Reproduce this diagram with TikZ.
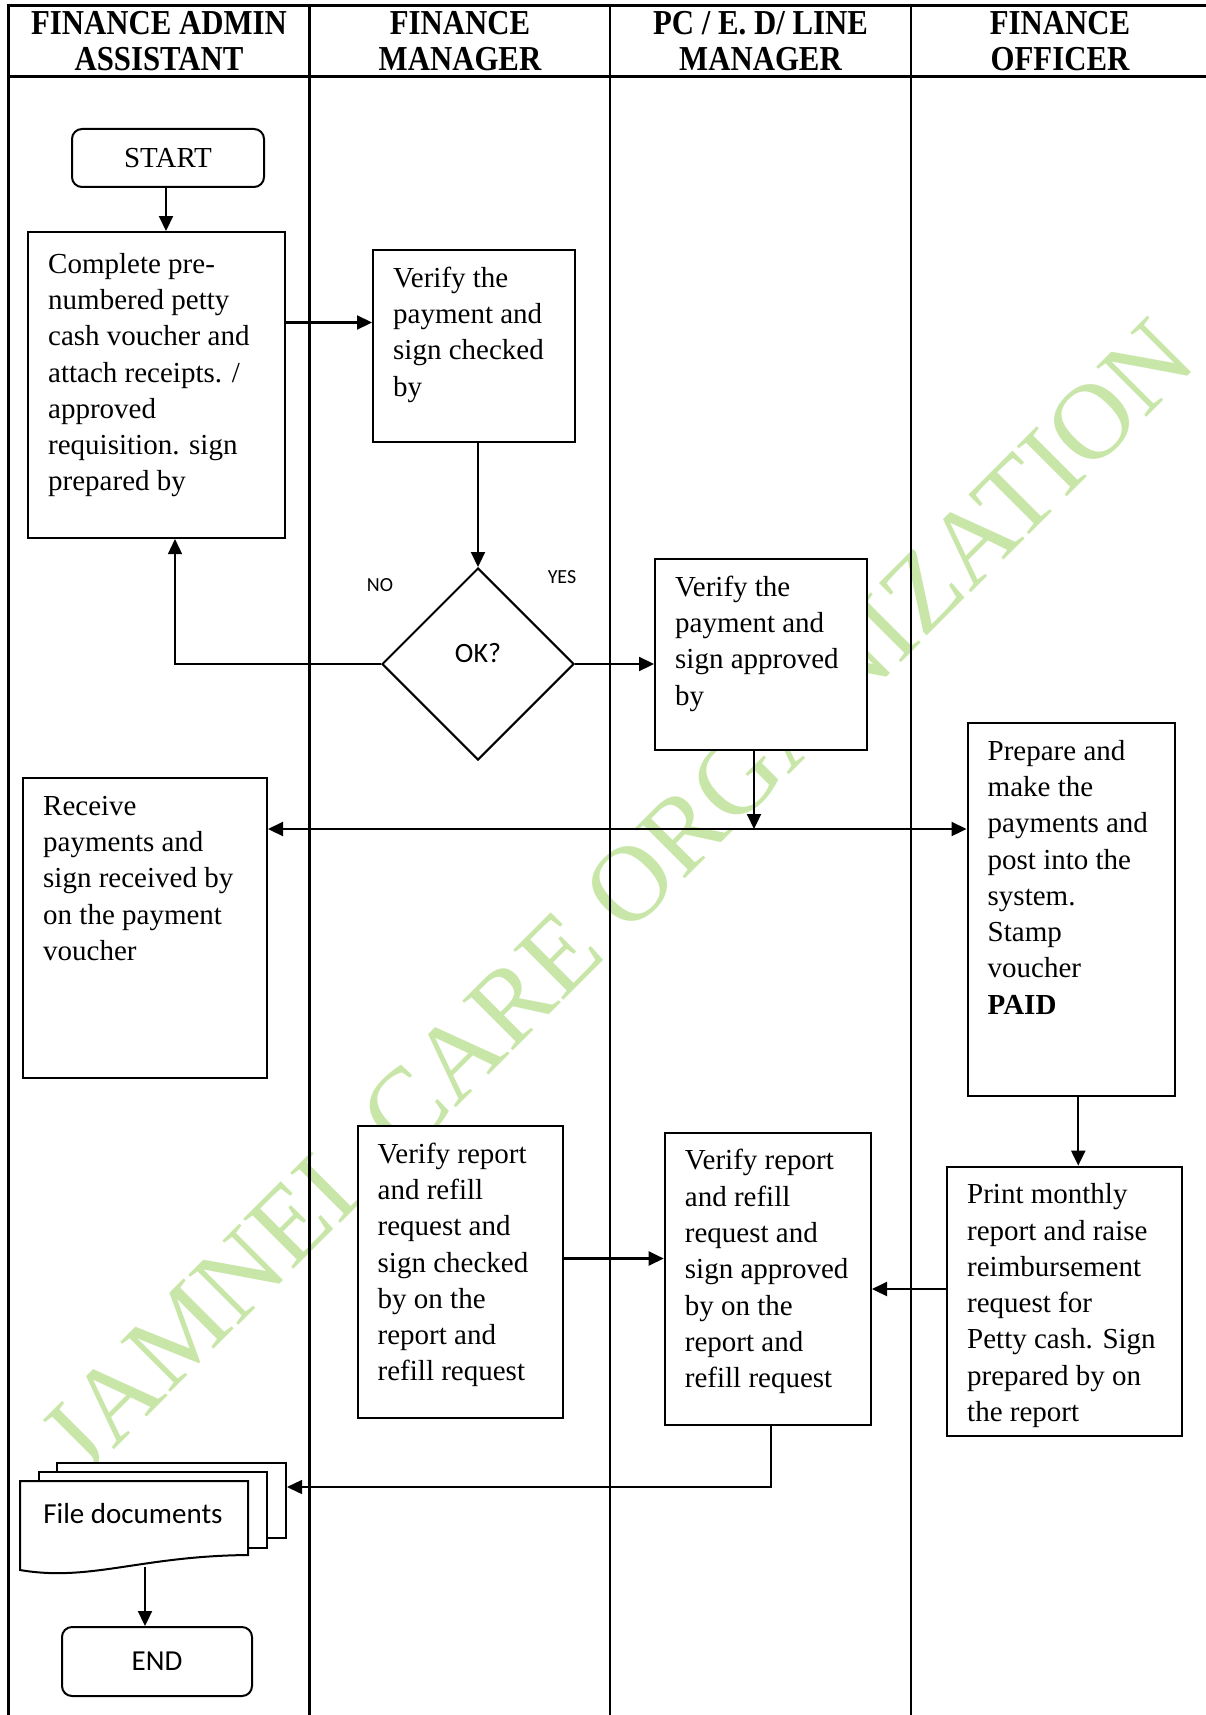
\documentclass[tikz,border=0pt]{standalone}
\usepackage{fontspec}
\setmainfont{Liberation Serif}
\newfontfamily\calib{Carlito}
\newfontfamily\hdrfont[FakeStretch=0.88]{Liberation Serif}
\usetikzlibrary{arrows.meta,shapes.geometric,calc}
\definecolor{wmgreen}{RGB}{200,230,167}

\begin{document}
\begin{tikzpicture}[x=1pt, y=-1pt,
  lane/.style={line width=2.2pt},
  hdr/.style={align=center, inner sep=0pt, font=\hdrfont\bfseries\fontsize{35}{36}\selectfont},
  box/.style={draw, line width=2pt, fill=white, inner sep=0pt, anchor=north west},
  term/.style={draw, rounded corners=10pt, line width=2pt, fill=white, inner sep=0pt},
  txt/.style={anchor=north west, inner sep=0pt, align=left, font=\fontsize{29}{36.3}\selectfont},
  sans/.style={inner sep=0pt, font=\calib\fontsize{29}{32}\selectfont},
  small/.style={inner sep=0pt, font=\calib\fontsize{20}{22}\selectfont},
  tip/.tip={Triangle[length=15pt,width=14pt]},
  arr/.style={line width=2.2pt, -tip},
  thinarr/.style={line width=1.3pt, -tip}]

% page
\fill[white] (0,0) rectangle (1206,1715);
\useasboundingbox (0,0) rectangle (1206,1715);

% watermark
\node[rotate=45, text=wmgreen, inner sep=0pt, font=\fontsize{108}{112}\selectfont] (wm) at (617,897) {JAMNEL CARE ORGANIZATION};

% swimlanes
\draw[lane] (1220,5.5) -- (8.5,5.5) -- (8.5,1720);
\draw[lane] (8.5,76.5) -- (1220,76.5);
\draw[lane] (309.5,5.5) -- (309.5,1720);
\draw[lane] (610,5.5) -- (610,1720);
\draw[lane] (911,5.5) -- (911,1720);

\node[hdr] (h1) at (159,41) {FINANCE ADMIN\\ASSISTANT};
\node[hdr] (h2) at (460,41) {FINANCE\\MANAGER};
\node[hdr] (h3) at (760.5,41) {PC / E. D/ LINE\\MANAGER};
\node[hdr] (h4) at (1060,41) {FINANCE\\OFFICER};

% process steps
\node[term, minimum width=192, minimum height=58, font=\fontsize{29}{34}\selectfont] (start) at (168,158) {START};

\node[box, minimum width=257, minimum height=306] (b1) at (27,231) {};
\node[txt] (b1t) at ($(b1.north west)+(21,16.5)$) {\strut Complete pre-\\numbered petty\\cash voucher and\\attach receipts. /\\approved\\requisition. sign\\prepared by};

\node[box, minimum width=202, minimum height=192] (b2) at (372,249) {};
\node[txt] (b2t) at ($(b2.north west)+(21,12.5)$) {\strut Verify the\\payment and\\sign checked\\by};

\node[draw, diamond, aspect=1, minimum width=192, minimum height=192, inner sep=0pt, line width=2pt, fill=white] (dia) at (478,664) {};
\node[inner sep=0pt, font=\calib\fontsize{28}{30}\selectfont] (ok) at (478,653) {OK?};
\node[small] (no) at (380,585) {NO};
\node[small] (yes) at (562,577) {YES};

\node[box, minimum width=212, minimum height=191] (b3) at (654,558) {};
\node[txt] (b3t) at ($(b3.north west)+(21,12.5)$) {\strut Verify the\\payment and\\sign approved\\by};

\node[box, minimum width=244, minimum height=300] (recv) at (22,777) {};
\node[txt] (recvt) at ($(recv.north west)+(21,12.5)$) {\strut Receive\\payments and\\sign received by\\on the payment\\voucher};

\node[box, minimum width=207.5, minimum height=372.5] (prep) at (966.5,722) {};
\node[txt] (prept) at ($(prep.north west)+(21,12.5)$) {\strut Prepare and\\make the\\payments and\\post into the\\system.\\Stamp\\voucher\\\textbf{PAID}};

\node[box, minimum width=205.5, minimum height=292] (fm) at (356.5,1125) {};
\node[txt] (fmt) at ($(fm.north west)+(21,12.5)$) {\strut Verify report\\and refill\\request and\\sign checked\\by on the\\report and\\refill request};

\node[box, minimum width=206.3, minimum height=292] (pc) at (663.7,1131.7) {};
\node[txt] (pct) at ($(pc.north west)+(21,12.5)$) {\strut Verify report\\and refill\\request and\\sign approved\\by on the\\report and\\refill request};

\node[box, minimum width=235, minimum height=269] (print) at (946,1165.6) {};
\node[txt] (printt) at ($(print.north west)+(21,12.5)$) {\strut Print monthly\\report and raise\\reimbursement\\request for\\Petty cash. Sign\\prepared by on\\the report};

% stacked documents
\node[box, minimum width=229, minimum height=75] (docB) at (56,1462) {};
\node[box, minimum width=228, minimum height=76] (docM) at (38,1471) {};
\filldraw[fill=white, line width=2pt] (20,1481) -- (248,1481) -- (248,1555)
  .. controls (140,1556) and (90,1582) .. (20,1570) -- cycle;
\node[sans] (docs) at (133,1514) {File documents};
\coordinate (dbot) at (145,1567);

\node[term, minimum width=190, minimum height=69, font=\calib\fontsize{29}{32}\selectfont] (stop) at (157,1661.5) {END};

% connectors
\coordinate (y12) at (0,322.5);
\coordinate (yh) at (0,829);
\coordinate (yr1) at (0,1258.5);
\coordinate (yr2) at (0,1289);
\coordinate (yd) at (0,1487);

\draw[arr] ([xshift=-2]start.south) -- ([xshift=-2]start.south |- b1.north);
\draw[arr] (b1.east |- y12) -- (b2.west |- y12);
\draw[arr] (dia.north |- b2.south) -- (dia.north);
\draw[thinarr] (dia.west) -| ([xshift=18.5]b1.south);
\draw[arr] (dia.east) -- (dia.east -| b3.west);
\draw[arr] ([xshift=-7]b3.south) -- ([xshift=-7]b3.south |- yh);
\draw[line width=2.2pt, tip-tip] (recv.east |- yh) -- (prep.west |- yh);
\draw[arr] ([xshift=7]prep.south) -- ([xshift=7]prep.south |- print.north);
\draw[arr] (fm.east |- yr1) -- (pc.west |- yr1);
\draw[arr] (print.west |- yr2) -- (pc.east |- yr2);
\draw[thinarr] ([xshift=3]pc.south) |- (docB.east |- yd);
\draw[arr] (dbot) -- (dbot |- stop.north);
\end{tikzpicture}
\end{document}
